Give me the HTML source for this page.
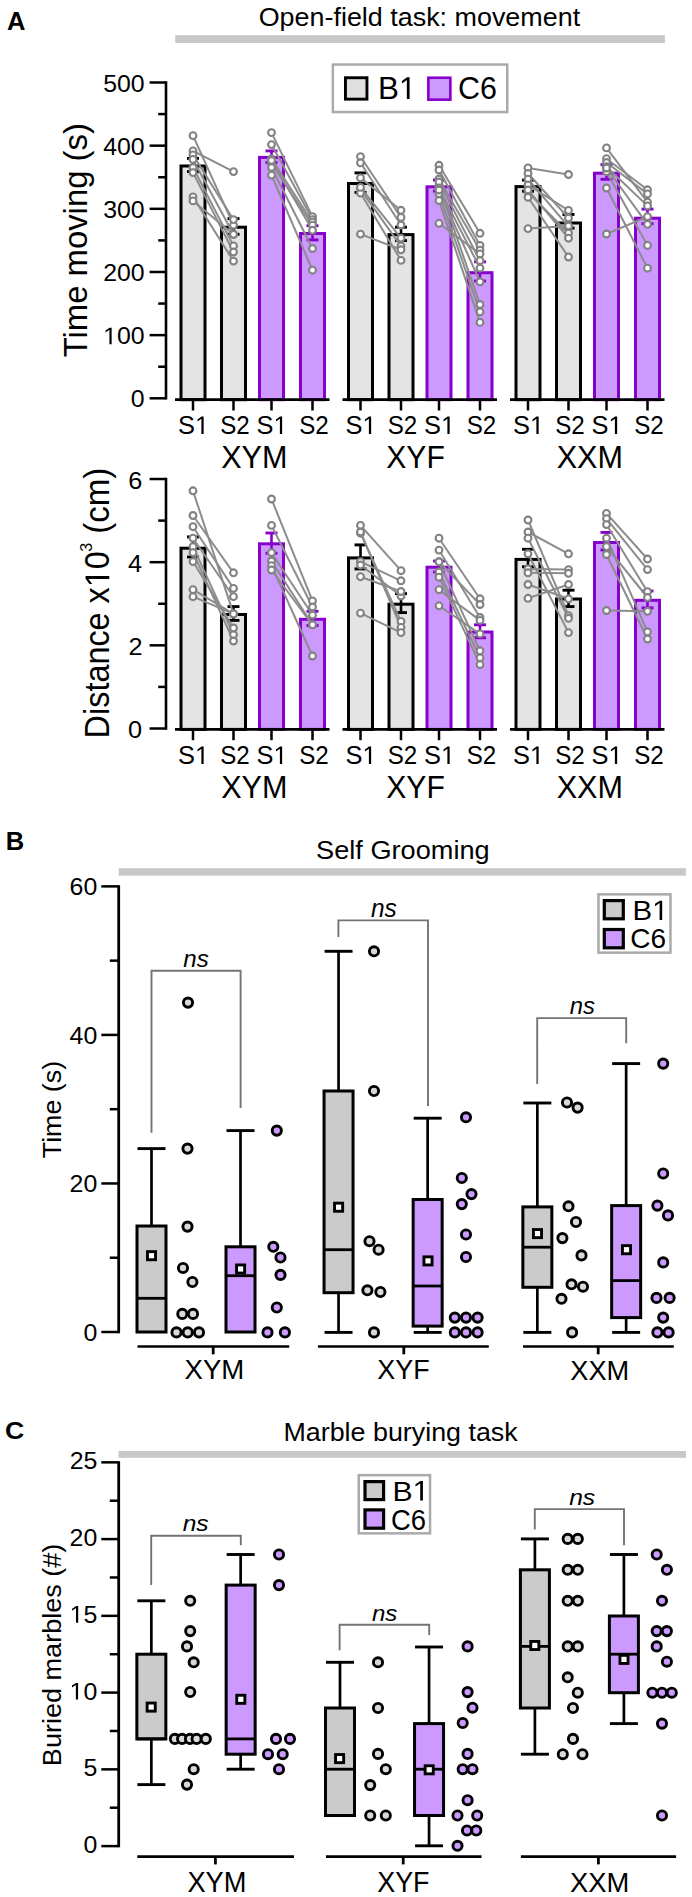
<!DOCTYPE html>
<html><head><meta charset="utf-8"><title>Figure</title>
<style>html,body{margin:0;padding:0;background:#fff;}svg{display:block;}</style>
</head><body>
<svg width="692" height="1897" viewBox="0 0 692 1897" font-family='"Liberation Sans", sans-serif'>
<rect x="0" y="0" width="692" height="1897" fill="#fff"/>
<text transform="translate(6.96,29.5) scale(0.9676,1)" font-size="26.38" font-weight="bold" fill="#000">A</text>
<text transform="translate(258.69,25.65) scale(1.0184,1)" font-size="26.42" fill="#000">Open-field task: movement</text>
<rect x="175.2" y="35.2" width="489.7" height="7.8" fill="#c8c8c8"/>
<rect x="332.85" y="64.55" width="174.4" height="47.5" fill="#fff" stroke="#aaaaaa" stroke-width="2.5"/>
<rect x="345.45" y="77.75" width="21.5" height="21.4" fill="#e0e0e0" stroke="#000" stroke-width="2.9"/>
<rect x="428.35" y="77.75" width="22" height="21.9" fill="#cc99ff" stroke="#8800cc" stroke-width="2.6"/>
<g transform="translate(377.99,98.97)" fill="#000">
<text font-size="31.4">B </text>
<path d="M515 0V1237L197 1010V1180L530 1409H696V0Z" transform="translate(20.94,0) scale(0.01533,-0.01533)"/>
</g>
<text transform="translate(457.98,98.68) scale(0.9700,1)" font-size="31.4" fill="#000">C6</text>
<line x1="166" y1="81.25" x2="166" y2="399.55" stroke="#000" stroke-width="2.6"/>
<line x1="149.6" y1="398.3" x2="166" y2="398.3" stroke="#000" stroke-width="2.5"/>
<line x1="149.6" y1="335.14" x2="166" y2="335.14" stroke="#000" stroke-width="2.5"/>
<line x1="149.6" y1="271.98" x2="166" y2="271.98" stroke="#000" stroke-width="2.5"/>
<line x1="149.6" y1="208.82" x2="166" y2="208.82" stroke="#000" stroke-width="2.5"/>
<line x1="149.6" y1="145.66" x2="166" y2="145.66" stroke="#000" stroke-width="2.5"/>
<line x1="149.6" y1="82.5" x2="166" y2="82.5" stroke="#000" stroke-width="2.5"/>
<line x1="158.2" y1="366.72" x2="166" y2="366.72" stroke="#000" stroke-width="2.5"/>
<line x1="158.2" y1="303.56" x2="166" y2="303.56" stroke="#000" stroke-width="2.5"/>
<line x1="158.2" y1="240.4" x2="166" y2="240.4" stroke="#000" stroke-width="2.5"/>
<line x1="158.2" y1="177.24" x2="166" y2="177.24" stroke="#000" stroke-width="2.5"/>
<line x1="158.2" y1="114.08" x2="166" y2="114.08" stroke="#000" stroke-width="2.5"/>
<text transform="translate(130.77,407.45) scale(1.0400,1)" font-size="23.9" fill="#000">0</text>
<g transform="translate(103.18,344.29) scale(1.0400,1)" fill="#000">
<text font-size="23.9"> 00</text>
<path d="M515 0V1237L197 1010V1180L530 1409H696V0Z" transform="translate(0,0) scale(0.01167,-0.01167)"/>
</g>
<text transform="translate(103.18,281.13) scale(1.0400,1)" font-size="23.9" fill="#000">200</text>
<text transform="translate(103.18,217.97) scale(1.0400,1)" font-size="23.9" fill="#000">300</text>
<text transform="translate(103.18,154.81) scale(1.0400,1)" font-size="23.9" fill="#000">400</text>
<text transform="translate(103.18,91.65) scale(1.0400,1)" font-size="23.9" fill="#000">500</text>
<text transform="translate(86.84,357.36) rotate(-90) scale(0.9629,1)" font-size="34.12" fill="#000">Time moving (s)</text>
<rect x="181" y="166" width="24" height="233.7" fill="#e4e4e4" stroke="#000" stroke-width="3"/>
<rect x="221.5" y="227.2" width="24" height="172.5" fill="#e4e4e4" stroke="#000" stroke-width="3"/>
<rect x="259.5" y="157.4" width="24" height="242.3" fill="#cc99ff" stroke="#8800cc" stroke-width="3"/>
<rect x="300.5" y="233.5" width="24" height="166.2" fill="#cc99ff" stroke="#8800cc" stroke-width="3"/>
<line x1="193" y1="158.4" x2="193" y2="171.6" stroke="#000" stroke-width="2.6"/>
<line x1="187" y1="158.4" x2="199" y2="158.4" stroke="#000" stroke-width="2.9"/>
<line x1="187" y1="171.6" x2="199" y2="171.6" stroke="#000" stroke-width="2.9"/>
<line x1="233.5" y1="218.6" x2="233.5" y2="234.3" stroke="#000" stroke-width="2.6"/>
<line x1="227.5" y1="218.6" x2="239.5" y2="218.6" stroke="#000" stroke-width="2.9"/>
<line x1="227.5" y1="234.3" x2="239.5" y2="234.3" stroke="#000" stroke-width="2.9"/>
<line x1="271.5" y1="150.9" x2="271.5" y2="162.5" stroke="#8800cc" stroke-width="2.6"/>
<line x1="265.5" y1="150.9" x2="277.5" y2="150.9" stroke="#8800cc" stroke-width="2.9"/>
<line x1="265.5" y1="162.5" x2="277.5" y2="162.5" stroke="#8800cc" stroke-width="2.9"/>
<line x1="312.5" y1="225.7" x2="312.5" y2="239.9" stroke="#8800cc" stroke-width="2.6"/>
<line x1="306.5" y1="225.7" x2="318.5" y2="225.7" stroke="#8800cc" stroke-width="2.9"/>
<line x1="306.5" y1="239.9" x2="318.5" y2="239.9" stroke="#8800cc" stroke-width="2.9"/>
<line x1="193" y1="135.7" x2="233.5" y2="225.2" stroke="#8c8c8c" stroke-width="2"/>
<line x1="193" y1="150.9" x2="233.5" y2="171.6" stroke="#8c8c8c" stroke-width="2"/>
<line x1="193" y1="154.9" x2="233.5" y2="219.6" stroke="#8c8c8c" stroke-width="2"/>
<line x1="193" y1="159.4" x2="233.5" y2="234.3" stroke="#8c8c8c" stroke-width="2"/>
<line x1="193" y1="167.5" x2="233.5" y2="245.9" stroke="#8c8c8c" stroke-width="2"/>
<line x1="193" y1="172.6" x2="233.5" y2="252" stroke="#8c8c8c" stroke-width="2"/>
<line x1="193" y1="196.9" x2="233.5" y2="261.1" stroke="#8c8c8c" stroke-width="2"/>
<line x1="193" y1="200.9" x2="233.5" y2="234.3" stroke="#8c8c8c" stroke-width="2"/>
<line x1="271.5" y1="132.6" x2="312.5" y2="216.6" stroke="#8c8c8c" stroke-width="2"/>
<line x1="271.5" y1="144.6" x2="312.5" y2="219.6" stroke="#8c8c8c" stroke-width="2"/>
<line x1="271.5" y1="158.9" x2="312.5" y2="222.2" stroke="#8c8c8c" stroke-width="2"/>
<line x1="271.5" y1="163.5" x2="312.5" y2="225.2" stroke="#8c8c8c" stroke-width="2"/>
<line x1="271.5" y1="167.5" x2="312.5" y2="248.5" stroke="#8c8c8c" stroke-width="2"/>
<line x1="271.5" y1="175.1" x2="312.5" y2="270.2" stroke="#8c8c8c" stroke-width="2"/>
<line x1="271.5" y1="160.5" x2="312.5" y2="230.3" stroke="#8c8c8c" stroke-width="2"/>
<circle cx="193" cy="135.7" r="3.4" fill="#fff" stroke="#828282" stroke-width="2.1"/>
<circle cx="233.5" cy="225.2" r="3.4" fill="#fff" stroke="#828282" stroke-width="2.1"/>
<circle cx="193" cy="150.9" r="3.4" fill="#fff" stroke="#828282" stroke-width="2.1"/>
<circle cx="233.5" cy="171.6" r="3.4" fill="#fff" stroke="#828282" stroke-width="2.1"/>
<circle cx="193" cy="154.9" r="3.4" fill="#fff" stroke="#828282" stroke-width="2.1"/>
<circle cx="233.5" cy="219.6" r="3.4" fill="#fff" stroke="#828282" stroke-width="2.1"/>
<circle cx="193" cy="159.4" r="3.4" fill="#fff" stroke="#828282" stroke-width="2.1"/>
<circle cx="233.5" cy="234.3" r="3.4" fill="#fff" stroke="#828282" stroke-width="2.1"/>
<circle cx="193" cy="167.5" r="3.4" fill="#fff" stroke="#828282" stroke-width="2.1"/>
<circle cx="233.5" cy="245.9" r="3.4" fill="#fff" stroke="#828282" stroke-width="2.1"/>
<circle cx="193" cy="172.6" r="3.4" fill="#fff" stroke="#828282" stroke-width="2.1"/>
<circle cx="233.5" cy="252" r="3.4" fill="#fff" stroke="#828282" stroke-width="2.1"/>
<circle cx="193" cy="196.9" r="3.4" fill="#fff" stroke="#828282" stroke-width="2.1"/>
<circle cx="233.5" cy="261.1" r="3.4" fill="#fff" stroke="#828282" stroke-width="2.1"/>
<circle cx="193" cy="200.9" r="3.4" fill="#fff" stroke="#828282" stroke-width="2.1"/>
<circle cx="233.5" cy="234.3" r="3.4" fill="#fff" stroke="#828282" stroke-width="2.1"/>
<circle cx="271.5" cy="132.6" r="3.4" fill="#fff" stroke="#828282" stroke-width="2.1"/>
<circle cx="312.5" cy="216.6" r="3.4" fill="#fff" stroke="#828282" stroke-width="2.1"/>
<circle cx="271.5" cy="144.6" r="3.4" fill="#fff" stroke="#828282" stroke-width="2.1"/>
<circle cx="312.5" cy="219.6" r="3.4" fill="#fff" stroke="#828282" stroke-width="2.1"/>
<circle cx="271.5" cy="158.9" r="3.4" fill="#fff" stroke="#828282" stroke-width="2.1"/>
<circle cx="312.5" cy="222.2" r="3.4" fill="#fff" stroke="#828282" stroke-width="2.1"/>
<circle cx="271.5" cy="163.5" r="3.4" fill="#fff" stroke="#828282" stroke-width="2.1"/>
<circle cx="312.5" cy="225.2" r="3.4" fill="#fff" stroke="#828282" stroke-width="2.1"/>
<circle cx="271.5" cy="167.5" r="3.4" fill="#fff" stroke="#828282" stroke-width="2.1"/>
<circle cx="312.5" cy="248.5" r="3.4" fill="#fff" stroke="#828282" stroke-width="2.1"/>
<circle cx="271.5" cy="175.1" r="3.4" fill="#fff" stroke="#828282" stroke-width="2.1"/>
<circle cx="312.5" cy="270.2" r="3.4" fill="#fff" stroke="#828282" stroke-width="2.1"/>
<circle cx="271.5" cy="160.5" r="3.4" fill="#fff" stroke="#828282" stroke-width="2.1"/>
<circle cx="312.5" cy="230.3" r="3.4" fill="#fff" stroke="#828282" stroke-width="2.1"/>
<rect x="348.5" y="183.5" width="24" height="216.2" fill="#e4e4e4" stroke="#000" stroke-width="3"/>
<rect x="389" y="234.6" width="24" height="165.1" fill="#e4e4e4" stroke="#000" stroke-width="3"/>
<rect x="427" y="186.8" width="24" height="212.9" fill="#cc99ff" stroke="#8800cc" stroke-width="3"/>
<rect x="468" y="272.7" width="24" height="127" fill="#cc99ff" stroke="#8800cc" stroke-width="3"/>
<line x1="360.5" y1="172.9" x2="360.5" y2="192.4" stroke="#000" stroke-width="2.6"/>
<line x1="354.5" y1="172.9" x2="366.5" y2="172.9" stroke="#000" stroke-width="2.9"/>
<line x1="354.5" y1="192.4" x2="366.5" y2="192.4" stroke="#000" stroke-width="2.9"/>
<line x1="401" y1="227.2" x2="401" y2="240.6" stroke="#000" stroke-width="2.6"/>
<line x1="395" y1="227.2" x2="407" y2="227.2" stroke="#000" stroke-width="2.9"/>
<line x1="395" y1="240.6" x2="407" y2="240.6" stroke="#000" stroke-width="2.9"/>
<line x1="439" y1="180" x2="439" y2="191.1" stroke="#8800cc" stroke-width="2.6"/>
<line x1="433" y1="180" x2="445" y2="180" stroke="#8800cc" stroke-width="2.9"/>
<line x1="433" y1="191.1" x2="445" y2="191.1" stroke="#8800cc" stroke-width="2.9"/>
<line x1="480" y1="261.8" x2="480" y2="281" stroke="#8800cc" stroke-width="2.6"/>
<line x1="474" y1="261.8" x2="486" y2="261.8" stroke="#8800cc" stroke-width="2.9"/>
<line x1="474" y1="281" x2="486" y2="281" stroke="#8800cc" stroke-width="2.9"/>
<line x1="360.5" y1="156.7" x2="401" y2="217.4" stroke="#8c8c8c" stroke-width="2"/>
<line x1="360.5" y1="162.8" x2="401" y2="225" stroke="#8c8c8c" stroke-width="2"/>
<line x1="360.5" y1="177.9" x2="401" y2="210.3" stroke="#8c8c8c" stroke-width="2"/>
<line x1="360.5" y1="189.6" x2="401" y2="246.2" stroke="#8c8c8c" stroke-width="2"/>
<line x1="360.5" y1="193.1" x2="401" y2="260.4" stroke="#8c8c8c" stroke-width="2"/>
<line x1="360.5" y1="234.1" x2="401" y2="249.8" stroke="#8c8c8c" stroke-width="2"/>
<line x1="360.5" y1="187.4" x2="401" y2="238.1" stroke="#8c8c8c" stroke-width="2"/>
<line x1="439" y1="165.3" x2="480" y2="233.3" stroke="#8c8c8c" stroke-width="2"/>
<line x1="439" y1="170" x2="480" y2="245.4" stroke="#8c8c8c" stroke-width="2"/>
<line x1="439" y1="179" x2="480" y2="250.2" stroke="#8c8c8c" stroke-width="2"/>
<line x1="439" y1="185.9" x2="480" y2="304.5" stroke="#8c8c8c" stroke-width="2"/>
<line x1="439" y1="193.8" x2="480" y2="311.8" stroke="#8c8c8c" stroke-width="2"/>
<line x1="439" y1="200.6" x2="480" y2="322.4" stroke="#8c8c8c" stroke-width="2"/>
<line x1="439" y1="223.3" x2="480" y2="253.9" stroke="#8c8c8c" stroke-width="2"/>
<line x1="439" y1="182" x2="480" y2="260.7" stroke="#8c8c8c" stroke-width="2"/>
<line x1="439" y1="188" x2="480" y2="268.1" stroke="#8c8c8c" stroke-width="2"/>
<line x1="439" y1="190" x2="480" y2="281.8" stroke="#8c8c8c" stroke-width="2"/>
<circle cx="360.5" cy="156.7" r="3.4" fill="#fff" stroke="#828282" stroke-width="2.1"/>
<circle cx="401" cy="217.4" r="3.4" fill="#fff" stroke="#828282" stroke-width="2.1"/>
<circle cx="360.5" cy="162.8" r="3.4" fill="#fff" stroke="#828282" stroke-width="2.1"/>
<circle cx="401" cy="225" r="3.4" fill="#fff" stroke="#828282" stroke-width="2.1"/>
<circle cx="360.5" cy="177.9" r="3.4" fill="#fff" stroke="#828282" stroke-width="2.1"/>
<circle cx="401" cy="210.3" r="3.4" fill="#fff" stroke="#828282" stroke-width="2.1"/>
<circle cx="360.5" cy="189.6" r="3.4" fill="#fff" stroke="#828282" stroke-width="2.1"/>
<circle cx="401" cy="246.2" r="3.4" fill="#fff" stroke="#828282" stroke-width="2.1"/>
<circle cx="360.5" cy="193.1" r="3.4" fill="#fff" stroke="#828282" stroke-width="2.1"/>
<circle cx="401" cy="260.4" r="3.4" fill="#fff" stroke="#828282" stroke-width="2.1"/>
<circle cx="360.5" cy="234.1" r="3.4" fill="#fff" stroke="#828282" stroke-width="2.1"/>
<circle cx="401" cy="249.8" r="3.4" fill="#fff" stroke="#828282" stroke-width="2.1"/>
<circle cx="360.5" cy="187.4" r="3.4" fill="#fff" stroke="#828282" stroke-width="2.1"/>
<circle cx="401" cy="238.1" r="3.4" fill="#fff" stroke="#828282" stroke-width="2.1"/>
<circle cx="439" cy="165.3" r="3.4" fill="#fff" stroke="#828282" stroke-width="2.1"/>
<circle cx="480" cy="233.3" r="3.4" fill="#fff" stroke="#828282" stroke-width="2.1"/>
<circle cx="439" cy="170" r="3.4" fill="#fff" stroke="#828282" stroke-width="2.1"/>
<circle cx="480" cy="245.4" r="3.4" fill="#fff" stroke="#828282" stroke-width="2.1"/>
<circle cx="439" cy="179" r="3.4" fill="#fff" stroke="#828282" stroke-width="2.1"/>
<circle cx="480" cy="250.2" r="3.4" fill="#fff" stroke="#828282" stroke-width="2.1"/>
<circle cx="439" cy="185.9" r="3.4" fill="#fff" stroke="#828282" stroke-width="2.1"/>
<circle cx="480" cy="304.5" r="3.4" fill="#fff" stroke="#828282" stroke-width="2.1"/>
<circle cx="439" cy="193.8" r="3.4" fill="#fff" stroke="#828282" stroke-width="2.1"/>
<circle cx="480" cy="311.8" r="3.4" fill="#fff" stroke="#828282" stroke-width="2.1"/>
<circle cx="439" cy="200.6" r="3.4" fill="#fff" stroke="#828282" stroke-width="2.1"/>
<circle cx="480" cy="322.4" r="3.4" fill="#fff" stroke="#828282" stroke-width="2.1"/>
<circle cx="439" cy="223.3" r="3.4" fill="#fff" stroke="#828282" stroke-width="2.1"/>
<circle cx="480" cy="253.9" r="3.4" fill="#fff" stroke="#828282" stroke-width="2.1"/>
<circle cx="439" cy="182" r="3.4" fill="#fff" stroke="#828282" stroke-width="2.1"/>
<circle cx="480" cy="260.7" r="3.4" fill="#fff" stroke="#828282" stroke-width="2.1"/>
<circle cx="439" cy="188" r="3.4" fill="#fff" stroke="#828282" stroke-width="2.1"/>
<circle cx="480" cy="268.1" r="3.4" fill="#fff" stroke="#828282" stroke-width="2.1"/>
<circle cx="439" cy="190" r="3.4" fill="#fff" stroke="#828282" stroke-width="2.1"/>
<circle cx="480" cy="281.8" r="3.4" fill="#fff" stroke="#828282" stroke-width="2.1"/>
<rect x="516" y="186.6" width="24" height="213.1" fill="#e4e4e4" stroke="#000" stroke-width="3"/>
<rect x="556.5" y="223" width="24" height="176.7" fill="#e4e4e4" stroke="#000" stroke-width="3"/>
<rect x="594.5" y="173.2" width="24" height="226.5" fill="#cc99ff" stroke="#8800cc" stroke-width="3"/>
<rect x="635.5" y="218.2" width="24" height="181.5" fill="#cc99ff" stroke="#8800cc" stroke-width="3"/>
<line x1="528" y1="180.1" x2="528" y2="191.2" stroke="#000" stroke-width="2.6"/>
<line x1="522" y1="180.1" x2="534" y2="180.1" stroke="#000" stroke-width="2.9"/>
<line x1="522" y1="191.2" x2="534" y2="191.2" stroke="#000" stroke-width="2.9"/>
<line x1="568.5" y1="214.5" x2="568.5" y2="228.1" stroke="#000" stroke-width="2.6"/>
<line x1="562.5" y1="214.5" x2="574.5" y2="214.5" stroke="#000" stroke-width="2.9"/>
<line x1="562.5" y1="228.1" x2="574.5" y2="228.1" stroke="#000" stroke-width="2.9"/>
<line x1="606.5" y1="164.7" x2="606.5" y2="179.3" stroke="#8800cc" stroke-width="2.6"/>
<line x1="600.5" y1="164.7" x2="612.5" y2="164.7" stroke="#8800cc" stroke-width="2.9"/>
<line x1="600.5" y1="179.3" x2="612.5" y2="179.3" stroke="#8800cc" stroke-width="2.9"/>
<line x1="647.5" y1="209.1" x2="647.5" y2="223.7" stroke="#8800cc" stroke-width="2.6"/>
<line x1="641.5" y1="209.1" x2="653.5" y2="209.1" stroke="#8800cc" stroke-width="2.9"/>
<line x1="641.5" y1="223.7" x2="653.5" y2="223.7" stroke="#8800cc" stroke-width="2.9"/>
<line x1="528" y1="167.9" x2="568.5" y2="174.5" stroke="#8c8c8c" stroke-width="2"/>
<line x1="528" y1="173.5" x2="568.5" y2="218" stroke="#8c8c8c" stroke-width="2"/>
<line x1="528" y1="179.1" x2="568.5" y2="226.6" stroke="#8c8c8c" stroke-width="2"/>
<line x1="528" y1="192.2" x2="568.5" y2="233.2" stroke="#8c8c8c" stroke-width="2"/>
<line x1="528" y1="197.3" x2="568.5" y2="257" stroke="#8c8c8c" stroke-width="2"/>
<line x1="528" y1="228.6" x2="568.5" y2="226" stroke="#8c8c8c" stroke-width="2"/>
<line x1="528" y1="185" x2="568.5" y2="210.4" stroke="#8c8c8c" stroke-width="2"/>
<line x1="528" y1="190" x2="568.5" y2="238.2" stroke="#8c8c8c" stroke-width="2"/>
<line x1="606.5" y1="147.9" x2="647.5" y2="202.1" stroke="#8c8c8c" stroke-width="2"/>
<line x1="606.5" y1="158.7" x2="647.5" y2="189.8" stroke="#8c8c8c" stroke-width="2"/>
<line x1="606.5" y1="162.5" x2="647.5" y2="193.9" stroke="#8c8c8c" stroke-width="2"/>
<line x1="606.5" y1="166.8" x2="647.5" y2="205.9" stroke="#8c8c8c" stroke-width="2"/>
<line x1="606.5" y1="171.7" x2="647.5" y2="245.4" stroke="#8c8c8c" stroke-width="2"/>
<line x1="606.5" y1="188" x2="647.5" y2="268.2" stroke="#8c8c8c" stroke-width="2"/>
<line x1="606.5" y1="234" x2="647.5" y2="216.7" stroke="#8c8c8c" stroke-width="2"/>
<line x1="606.5" y1="168" x2="647.5" y2="224.3" stroke="#8c8c8c" stroke-width="2"/>
<circle cx="528" cy="167.9" r="3.4" fill="#fff" stroke="#828282" stroke-width="2.1"/>
<circle cx="568.5" cy="174.5" r="3.4" fill="#fff" stroke="#828282" stroke-width="2.1"/>
<circle cx="528" cy="173.5" r="3.4" fill="#fff" stroke="#828282" stroke-width="2.1"/>
<circle cx="568.5" cy="218" r="3.4" fill="#fff" stroke="#828282" stroke-width="2.1"/>
<circle cx="528" cy="179.1" r="3.4" fill="#fff" stroke="#828282" stroke-width="2.1"/>
<circle cx="568.5" cy="226.6" r="3.4" fill="#fff" stroke="#828282" stroke-width="2.1"/>
<circle cx="528" cy="192.2" r="3.4" fill="#fff" stroke="#828282" stroke-width="2.1"/>
<circle cx="568.5" cy="233.2" r="3.4" fill="#fff" stroke="#828282" stroke-width="2.1"/>
<circle cx="528" cy="197.3" r="3.4" fill="#fff" stroke="#828282" stroke-width="2.1"/>
<circle cx="568.5" cy="257" r="3.4" fill="#fff" stroke="#828282" stroke-width="2.1"/>
<circle cx="528" cy="228.6" r="3.4" fill="#fff" stroke="#828282" stroke-width="2.1"/>
<circle cx="568.5" cy="226" r="3.4" fill="#fff" stroke="#828282" stroke-width="2.1"/>
<circle cx="528" cy="185" r="3.4" fill="#fff" stroke="#828282" stroke-width="2.1"/>
<circle cx="568.5" cy="210.4" r="3.4" fill="#fff" stroke="#828282" stroke-width="2.1"/>
<circle cx="528" cy="190" r="3.4" fill="#fff" stroke="#828282" stroke-width="2.1"/>
<circle cx="568.5" cy="238.2" r="3.4" fill="#fff" stroke="#828282" stroke-width="2.1"/>
<circle cx="606.5" cy="147.9" r="3.4" fill="#fff" stroke="#828282" stroke-width="2.1"/>
<circle cx="647.5" cy="202.1" r="3.4" fill="#fff" stroke="#828282" stroke-width="2.1"/>
<circle cx="606.5" cy="158.7" r="3.4" fill="#fff" stroke="#828282" stroke-width="2.1"/>
<circle cx="647.5" cy="189.8" r="3.4" fill="#fff" stroke="#828282" stroke-width="2.1"/>
<circle cx="606.5" cy="162.5" r="3.4" fill="#fff" stroke="#828282" stroke-width="2.1"/>
<circle cx="647.5" cy="193.9" r="3.4" fill="#fff" stroke="#828282" stroke-width="2.1"/>
<circle cx="606.5" cy="166.8" r="3.4" fill="#fff" stroke="#828282" stroke-width="2.1"/>
<circle cx="647.5" cy="205.9" r="3.4" fill="#fff" stroke="#828282" stroke-width="2.1"/>
<circle cx="606.5" cy="171.7" r="3.4" fill="#fff" stroke="#828282" stroke-width="2.1"/>
<circle cx="647.5" cy="245.4" r="3.4" fill="#fff" stroke="#828282" stroke-width="2.1"/>
<circle cx="606.5" cy="188" r="3.4" fill="#fff" stroke="#828282" stroke-width="2.1"/>
<circle cx="647.5" cy="268.2" r="3.4" fill="#fff" stroke="#828282" stroke-width="2.1"/>
<circle cx="606.5" cy="234" r="3.4" fill="#fff" stroke="#828282" stroke-width="2.1"/>
<circle cx="647.5" cy="216.7" r="3.4" fill="#fff" stroke="#828282" stroke-width="2.1"/>
<circle cx="606.5" cy="168" r="3.4" fill="#fff" stroke="#828282" stroke-width="2.1"/>
<circle cx="647.5" cy="224.3" r="3.4" fill="#fff" stroke="#828282" stroke-width="2.1"/>
<line x1="175" y1="399.7" x2="329.5" y2="399.7" stroke="#000" stroke-width="2.8"/>
<line x1="193" y1="399.7" x2="193" y2="410.5" stroke="#000" stroke-width="2.5"/>
<g transform="translate(178.07,434.08)" fill="#000">
<text font-size="25.4">S </text>
<path d="M515 0V1237L197 1010V1180L530 1409H696V0Z" transform="translate(16.94,0) scale(0.01240,-0.01240)"/>
</g>
<line x1="233.5" y1="399.7" x2="233.5" y2="410.5" stroke="#000" stroke-width="2.5"/>
<text transform="translate(220.27,434.08) scale(0.9500,1)" font-size="25.4" fill="#000">S2</text>
<line x1="271.5" y1="399.7" x2="271.5" y2="410.5" stroke="#000" stroke-width="2.5"/>
<g transform="translate(256.57,434.08)" fill="#000">
<text font-size="25.4">S </text>
<path d="M515 0V1237L197 1010V1180L530 1409H696V0Z" transform="translate(16.94,0) scale(0.01240,-0.01240)"/>
</g>
<line x1="312.5" y1="399.7" x2="312.5" y2="410.5" stroke="#000" stroke-width="2.5"/>
<text transform="translate(299.27,434.08) scale(0.9500,1)" font-size="25.4" fill="#000">S2</text>
<text transform="translate(221.14,468.3)" font-size="30.58" fill="#000">XYM</text>
<line x1="342.5" y1="399.7" x2="497" y2="399.7" stroke="#000" stroke-width="2.8"/>
<line x1="360.5" y1="399.7" x2="360.5" y2="410.5" stroke="#000" stroke-width="2.5"/>
<g transform="translate(345.57,434.08)" fill="#000">
<text font-size="25.4">S </text>
<path d="M515 0V1237L197 1010V1180L530 1409H696V0Z" transform="translate(16.94,0) scale(0.01240,-0.01240)"/>
</g>
<line x1="401" y1="399.7" x2="401" y2="410.5" stroke="#000" stroke-width="2.5"/>
<text transform="translate(387.77,434.08) scale(0.9500,1)" font-size="25.4" fill="#000">S2</text>
<line x1="439" y1="399.7" x2="439" y2="410.5" stroke="#000" stroke-width="2.5"/>
<g transform="translate(424.07,434.08)" fill="#000">
<text font-size="25.4">S </text>
<path d="M515 0V1237L197 1010V1180L530 1409H696V0Z" transform="translate(16.94,0) scale(0.01240,-0.01240)"/>
</g>
<line x1="480" y1="399.7" x2="480" y2="410.5" stroke="#000" stroke-width="2.5"/>
<text transform="translate(466.77,434.08) scale(0.9500,1)" font-size="25.4" fill="#000">S2</text>
<text transform="translate(386.25,468.3) scale(0.9845,1)" font-size="30.58" fill="#000">XYF</text>
<line x1="510" y1="399.7" x2="664.5" y2="399.7" stroke="#000" stroke-width="2.8"/>
<line x1="528" y1="399.7" x2="528" y2="410.5" stroke="#000" stroke-width="2.5"/>
<g transform="translate(513.07,434.08)" fill="#000">
<text font-size="25.4">S </text>
<path d="M515 0V1237L197 1010V1180L530 1409H696V0Z" transform="translate(16.94,0) scale(0.01240,-0.01240)"/>
</g>
<line x1="568.5" y1="399.7" x2="568.5" y2="410.5" stroke="#000" stroke-width="2.5"/>
<text transform="translate(555.27,434.08) scale(0.9500,1)" font-size="25.4" fill="#000">S2</text>
<line x1="606.5" y1="399.7" x2="606.5" y2="410.5" stroke="#000" stroke-width="2.5"/>
<g transform="translate(591.57,434.08)" fill="#000">
<text font-size="25.4">S </text>
<path d="M515 0V1237L197 1010V1180L530 1409H696V0Z" transform="translate(16.94,0) scale(0.01240,-0.01240)"/>
</g>
<line x1="647.5" y1="399.7" x2="647.5" y2="410.5" stroke="#000" stroke-width="2.5"/>
<text transform="translate(634.27,434.08) scale(0.9500,1)" font-size="25.4" fill="#000">S2</text>
<text transform="translate(556.64,468.3)" font-size="30.58" fill="#000">XXM</text>
<line x1="166" y1="477.77" x2="166" y2="729.75" stroke="#000" stroke-width="2.6"/>
<line x1="149.6" y1="728.5" x2="166" y2="728.5" stroke="#000" stroke-width="2.5"/>
<line x1="149.6" y1="645.34" x2="166" y2="645.34" stroke="#000" stroke-width="2.5"/>
<line x1="149.6" y1="562.18" x2="166" y2="562.18" stroke="#000" stroke-width="2.5"/>
<line x1="149.6" y1="479.02" x2="166" y2="479.02" stroke="#000" stroke-width="2.5"/>
<line x1="158.2" y1="686.92" x2="166" y2="686.92" stroke="#000" stroke-width="2.5"/>
<line x1="158.2" y1="603.76" x2="166" y2="603.76" stroke="#000" stroke-width="2.5"/>
<line x1="158.2" y1="520.6" x2="166" y2="520.6" stroke="#000" stroke-width="2.5"/>
<text transform="translate(128.02,737.99) scale(1.0300,1)" font-size="24.6" fill="#000">0</text>
<text transform="translate(128.4,654.95) scale(1.0300,1)" font-size="24.6" fill="#000">2</text>
<text transform="translate(127.9,571.67) scale(1.0300,1)" font-size="24.6" fill="#000">4</text>
<text transform="translate(128.15,488.51) scale(1.0300,1)" font-size="24.6" fill="#000">6</text>
<g transform="translate(109.26,738.39) rotate(-90) scale(0.9415,1)" fill="#000">
<text font-size="34.42">Distance x 0</text>
<path d="M515 0V1237L197 1010V1180L530 1409H696V0Z" transform="translate(160.7,0) scale(0.01681,-0.01681)"/>
</g>
<text transform="translate(92.23,551.64) rotate(-90) scale(0.9627,1)" font-size="16.62" fill="#000">3</text>
<text transform="translate(108.99,533.79) rotate(-90) scale(0.9647,1)" font-size="34.33" fill="#000">(cm)</text>
<rect x="181" y="548.2" width="24" height="181.2" fill="#e4e4e4" stroke="#000" stroke-width="3"/>
<rect x="221.5" y="614.5" width="24" height="114.9" fill="#e4e4e4" stroke="#000" stroke-width="3"/>
<rect x="259.5" y="543.8" width="24" height="185.6" fill="#cc99ff" stroke="#8800cc" stroke-width="3"/>
<rect x="300.5" y="619.3" width="24" height="110.1" fill="#cc99ff" stroke="#8800cc" stroke-width="3"/>
<line x1="193" y1="536.9" x2="193" y2="557" stroke="#000" stroke-width="2.6"/>
<line x1="187" y1="536.9" x2="199" y2="536.9" stroke="#000" stroke-width="2.9"/>
<line x1="187" y1="557" x2="199" y2="557" stroke="#000" stroke-width="2.9"/>
<line x1="233.5" y1="606.6" x2="233.5" y2="620.4" stroke="#000" stroke-width="2.6"/>
<line x1="227.5" y1="606.6" x2="239.5" y2="606.6" stroke="#000" stroke-width="2.9"/>
<line x1="227.5" y1="620.4" x2="239.5" y2="620.4" stroke="#000" stroke-width="2.9"/>
<line x1="271.5" y1="533" x2="271.5" y2="553.2" stroke="#8800cc" stroke-width="2.6"/>
<line x1="265.5" y1="533" x2="277.5" y2="533" stroke="#8800cc" stroke-width="2.9"/>
<line x1="265.5" y1="553.2" x2="277.5" y2="553.2" stroke="#8800cc" stroke-width="2.9"/>
<line x1="312.5" y1="611.3" x2="312.5" y2="625.6" stroke="#8800cc" stroke-width="2.6"/>
<line x1="306.5" y1="611.3" x2="318.5" y2="611.3" stroke="#8800cc" stroke-width="2.9"/>
<line x1="306.5" y1="625.6" x2="318.5" y2="625.6" stroke="#8800cc" stroke-width="2.9"/>
<line x1="193" y1="490.8" x2="233.5" y2="613.9" stroke="#8c8c8c" stroke-width="2"/>
<line x1="193" y1="515.5" x2="233.5" y2="572.8" stroke="#8c8c8c" stroke-width="2"/>
<line x1="193" y1="526.7" x2="233.5" y2="588.4" stroke="#8c8c8c" stroke-width="2"/>
<line x1="193" y1="538.2" x2="233.5" y2="596.7" stroke="#8c8c8c" stroke-width="2"/>
<line x1="193" y1="546.7" x2="233.5" y2="634.7" stroke="#8c8c8c" stroke-width="2"/>
<line x1="193" y1="552.7" x2="233.5" y2="641" stroke="#8c8c8c" stroke-width="2"/>
<line x1="193" y1="561.6" x2="233.5" y2="628" stroke="#8c8c8c" stroke-width="2"/>
<line x1="193" y1="589.7" x2="233.5" y2="613.9" stroke="#8c8c8c" stroke-width="2"/>
<line x1="193" y1="596.7" x2="233.5" y2="613.9" stroke="#8c8c8c" stroke-width="2"/>
<line x1="271.5" y1="499" x2="312.5" y2="600.9" stroke="#8c8c8c" stroke-width="2"/>
<line x1="271.5" y1="525.4" x2="312.5" y2="607" stroke="#8c8c8c" stroke-width="2"/>
<line x1="271.5" y1="552.7" x2="312.5" y2="615" stroke="#8c8c8c" stroke-width="2"/>
<line x1="271.5" y1="561" x2="312.5" y2="624.8" stroke="#8c8c8c" stroke-width="2"/>
<line x1="271.5" y1="565.7" x2="312.5" y2="656" stroke="#8c8c8c" stroke-width="2"/>
<line x1="271.5" y1="570" x2="312.5" y2="624.8" stroke="#8c8c8c" stroke-width="2"/>
<circle cx="193" cy="490.8" r="3.4" fill="#fff" stroke="#828282" stroke-width="2.1"/>
<circle cx="233.5" cy="613.9" r="3.4" fill="#fff" stroke="#828282" stroke-width="2.1"/>
<circle cx="193" cy="515.5" r="3.4" fill="#fff" stroke="#828282" stroke-width="2.1"/>
<circle cx="233.5" cy="572.8" r="3.4" fill="#fff" stroke="#828282" stroke-width="2.1"/>
<circle cx="193" cy="526.7" r="3.4" fill="#fff" stroke="#828282" stroke-width="2.1"/>
<circle cx="233.5" cy="588.4" r="3.4" fill="#fff" stroke="#828282" stroke-width="2.1"/>
<circle cx="193" cy="538.2" r="3.4" fill="#fff" stroke="#828282" stroke-width="2.1"/>
<circle cx="233.5" cy="596.7" r="3.4" fill="#fff" stroke="#828282" stroke-width="2.1"/>
<circle cx="193" cy="546.7" r="3.4" fill="#fff" stroke="#828282" stroke-width="2.1"/>
<circle cx="233.5" cy="634.7" r="3.4" fill="#fff" stroke="#828282" stroke-width="2.1"/>
<circle cx="193" cy="552.7" r="3.4" fill="#fff" stroke="#828282" stroke-width="2.1"/>
<circle cx="233.5" cy="641" r="3.4" fill="#fff" stroke="#828282" stroke-width="2.1"/>
<circle cx="193" cy="561.6" r="3.4" fill="#fff" stroke="#828282" stroke-width="2.1"/>
<circle cx="233.5" cy="628" r="3.4" fill="#fff" stroke="#828282" stroke-width="2.1"/>
<circle cx="193" cy="589.7" r="3.4" fill="#fff" stroke="#828282" stroke-width="2.1"/>
<circle cx="233.5" cy="613.9" r="3.4" fill="#fff" stroke="#828282" stroke-width="2.1"/>
<circle cx="193" cy="596.7" r="3.4" fill="#fff" stroke="#828282" stroke-width="2.1"/>
<circle cx="233.5" cy="613.9" r="3.4" fill="#fff" stroke="#828282" stroke-width="2.1"/>
<circle cx="271.5" cy="499" r="3.4" fill="#fff" stroke="#828282" stroke-width="2.1"/>
<circle cx="312.5" cy="600.9" r="3.4" fill="#fff" stroke="#828282" stroke-width="2.1"/>
<circle cx="271.5" cy="525.4" r="3.4" fill="#fff" stroke="#828282" stroke-width="2.1"/>
<circle cx="312.5" cy="607" r="3.4" fill="#fff" stroke="#828282" stroke-width="2.1"/>
<circle cx="271.5" cy="552.7" r="3.4" fill="#fff" stroke="#828282" stroke-width="2.1"/>
<circle cx="312.5" cy="615" r="3.4" fill="#fff" stroke="#828282" stroke-width="2.1"/>
<circle cx="271.5" cy="561" r="3.4" fill="#fff" stroke="#828282" stroke-width="2.1"/>
<circle cx="312.5" cy="624.8" r="3.4" fill="#fff" stroke="#828282" stroke-width="2.1"/>
<circle cx="271.5" cy="565.7" r="3.4" fill="#fff" stroke="#828282" stroke-width="2.1"/>
<circle cx="312.5" cy="656" r="3.4" fill="#fff" stroke="#828282" stroke-width="2.1"/>
<circle cx="271.5" cy="570" r="3.4" fill="#fff" stroke="#828282" stroke-width="2.1"/>
<circle cx="312.5" cy="624.8" r="3.4" fill="#fff" stroke="#828282" stroke-width="2.1"/>
<rect x="348.5" y="557.9" width="24" height="171.5" fill="#e4e4e4" stroke="#000" stroke-width="3"/>
<rect x="389" y="604.2" width="24" height="125.2" fill="#e4e4e4" stroke="#000" stroke-width="3"/>
<rect x="427" y="567.2" width="24" height="162.2" fill="#cc99ff" stroke="#8800cc" stroke-width="3"/>
<rect x="468" y="632" width="24" height="97.4" fill="#cc99ff" stroke="#8800cc" stroke-width="3"/>
<line x1="360.5" y1="544.9" x2="360.5" y2="568.9" stroke="#000" stroke-width="2.6"/>
<line x1="354.5" y1="544.9" x2="366.5" y2="544.9" stroke="#000" stroke-width="2.9"/>
<line x1="354.5" y1="568.9" x2="366.5" y2="568.9" stroke="#000" stroke-width="2.9"/>
<line x1="401" y1="593.6" x2="401" y2="612.6" stroke="#000" stroke-width="2.6"/>
<line x1="395" y1="593.6" x2="407" y2="593.6" stroke="#000" stroke-width="2.9"/>
<line x1="395" y1="612.6" x2="407" y2="612.6" stroke="#000" stroke-width="2.9"/>
<line x1="439" y1="561" x2="439" y2="572" stroke="#8800cc" stroke-width="2.6"/>
<line x1="433" y1="561" x2="445" y2="561" stroke="#8800cc" stroke-width="2.9"/>
<line x1="433" y1="572" x2="445" y2="572" stroke="#8800cc" stroke-width="2.9"/>
<line x1="480" y1="624.8" x2="480" y2="637.8" stroke="#8800cc" stroke-width="2.6"/>
<line x1="474" y1="624.8" x2="486" y2="624.8" stroke="#8800cc" stroke-width="2.9"/>
<line x1="474" y1="637.8" x2="486" y2="637.8" stroke="#8800cc" stroke-width="2.9"/>
<line x1="360.5" y1="525.4" x2="401" y2="570.7" stroke="#8c8c8c" stroke-width="2"/>
<line x1="360.5" y1="533.2" x2="401" y2="621.4" stroke="#8c8c8c" stroke-width="2"/>
<line x1="360.5" y1="532" x2="401" y2="627.4" stroke="#8c8c8c" stroke-width="2"/>
<line x1="360.5" y1="561.6" x2="401" y2="580.8" stroke="#8c8c8c" stroke-width="2"/>
<line x1="360.5" y1="565" x2="401" y2="596" stroke="#8c8c8c" stroke-width="2"/>
<line x1="360.5" y1="576.7" x2="401" y2="591.5" stroke="#8c8c8c" stroke-width="2"/>
<line x1="360.5" y1="613.1" x2="401" y2="632.6" stroke="#8c8c8c" stroke-width="2"/>
<line x1="439" y1="538.2" x2="480" y2="598.8" stroke="#8c8c8c" stroke-width="2"/>
<line x1="439" y1="550.1" x2="480" y2="617.5" stroke="#8c8c8c" stroke-width="2"/>
<line x1="439" y1="561.6" x2="480" y2="604.5" stroke="#8c8c8c" stroke-width="2"/>
<line x1="439" y1="561.8" x2="480" y2="650.8" stroke="#8c8c8c" stroke-width="2"/>
<line x1="439" y1="572" x2="480" y2="657.8" stroke="#8c8c8c" stroke-width="2"/>
<line x1="439" y1="577.2" x2="480" y2="664.6" stroke="#8c8c8c" stroke-width="2"/>
<line x1="439" y1="589.7" x2="480" y2="620.4" stroke="#8c8c8c" stroke-width="2"/>
<line x1="439" y1="605.8" x2="480" y2="633.9" stroke="#8c8c8c" stroke-width="2"/>
<circle cx="360.5" cy="525.4" r="3.4" fill="#fff" stroke="#828282" stroke-width="2.1"/>
<circle cx="401" cy="570.7" r="3.4" fill="#fff" stroke="#828282" stroke-width="2.1"/>
<circle cx="360.5" cy="533.2" r="3.4" fill="#fff" stroke="#828282" stroke-width="2.1"/>
<circle cx="401" cy="621.4" r="3.4" fill="#fff" stroke="#828282" stroke-width="2.1"/>
<circle cx="360.5" cy="532" r="3.4" fill="#fff" stroke="#828282" stroke-width="2.1"/>
<circle cx="401" cy="627.4" r="3.4" fill="#fff" stroke="#828282" stroke-width="2.1"/>
<circle cx="360.5" cy="561.6" r="3.4" fill="#fff" stroke="#828282" stroke-width="2.1"/>
<circle cx="401" cy="580.8" r="3.4" fill="#fff" stroke="#828282" stroke-width="2.1"/>
<circle cx="360.5" cy="565" r="3.4" fill="#fff" stroke="#828282" stroke-width="2.1"/>
<circle cx="401" cy="596" r="3.4" fill="#fff" stroke="#828282" stroke-width="2.1"/>
<circle cx="360.5" cy="576.7" r="3.4" fill="#fff" stroke="#828282" stroke-width="2.1"/>
<circle cx="401" cy="591.5" r="3.4" fill="#fff" stroke="#828282" stroke-width="2.1"/>
<circle cx="360.5" cy="613.1" r="3.4" fill="#fff" stroke="#828282" stroke-width="2.1"/>
<circle cx="401" cy="632.6" r="3.4" fill="#fff" stroke="#828282" stroke-width="2.1"/>
<circle cx="439" cy="538.2" r="3.4" fill="#fff" stroke="#828282" stroke-width="2.1"/>
<circle cx="480" cy="598.8" r="3.4" fill="#fff" stroke="#828282" stroke-width="2.1"/>
<circle cx="439" cy="550.1" r="3.4" fill="#fff" stroke="#828282" stroke-width="2.1"/>
<circle cx="480" cy="617.5" r="3.4" fill="#fff" stroke="#828282" stroke-width="2.1"/>
<circle cx="439" cy="561.6" r="3.4" fill="#fff" stroke="#828282" stroke-width="2.1"/>
<circle cx="480" cy="604.5" r="3.4" fill="#fff" stroke="#828282" stroke-width="2.1"/>
<circle cx="439" cy="561.8" r="3.4" fill="#fff" stroke="#828282" stroke-width="2.1"/>
<circle cx="480" cy="650.8" r="3.4" fill="#fff" stroke="#828282" stroke-width="2.1"/>
<circle cx="439" cy="572" r="3.4" fill="#fff" stroke="#828282" stroke-width="2.1"/>
<circle cx="480" cy="657.8" r="3.4" fill="#fff" stroke="#828282" stroke-width="2.1"/>
<circle cx="439" cy="577.2" r="3.4" fill="#fff" stroke="#828282" stroke-width="2.1"/>
<circle cx="480" cy="664.6" r="3.4" fill="#fff" stroke="#828282" stroke-width="2.1"/>
<circle cx="439" cy="589.7" r="3.4" fill="#fff" stroke="#828282" stroke-width="2.1"/>
<circle cx="480" cy="620.4" r="3.4" fill="#fff" stroke="#828282" stroke-width="2.1"/>
<circle cx="439" cy="605.8" r="3.4" fill="#fff" stroke="#828282" stroke-width="2.1"/>
<circle cx="480" cy="633.9" r="3.4" fill="#fff" stroke="#828282" stroke-width="2.1"/>
<rect x="516" y="559.4" width="24" height="170" fill="#e4e4e4" stroke="#000" stroke-width="3"/>
<rect x="556.5" y="599" width="24" height="130.4" fill="#e4e4e4" stroke="#000" stroke-width="3"/>
<rect x="594.5" y="542.5" width="24" height="186.9" fill="#cc99ff" stroke="#8800cc" stroke-width="3"/>
<rect x="635.5" y="600.3" width="24" height="129.1" fill="#cc99ff" stroke="#8800cc" stroke-width="3"/>
<line x1="528" y1="549.3" x2="528" y2="566.8" stroke="#000" stroke-width="2.6"/>
<line x1="522" y1="549.3" x2="534" y2="549.3" stroke="#000" stroke-width="2.9"/>
<line x1="522" y1="566.8" x2="534" y2="566.8" stroke="#000" stroke-width="2.9"/>
<line x1="568.5" y1="590.2" x2="568.5" y2="606.6" stroke="#000" stroke-width="2.6"/>
<line x1="562.5" y1="590.2" x2="574.5" y2="590.2" stroke="#000" stroke-width="2.9"/>
<line x1="562.5" y1="606.6" x2="574.5" y2="606.6" stroke="#000" stroke-width="2.9"/>
<line x1="606.5" y1="532.4" x2="606.5" y2="550" stroke="#8800cc" stroke-width="2.6"/>
<line x1="600.5" y1="532.4" x2="612.5" y2="532.4" stroke="#8800cc" stroke-width="2.9"/>
<line x1="600.5" y1="550" x2="612.5" y2="550" stroke="#8800cc" stroke-width="2.9"/>
<line x1="647.5" y1="591" x2="647.5" y2="607.9" stroke="#8800cc" stroke-width="2.6"/>
<line x1="641.5" y1="591" x2="653.5" y2="591" stroke="#8800cc" stroke-width="2.9"/>
<line x1="641.5" y1="607.9" x2="653.5" y2="607.9" stroke="#8800cc" stroke-width="2.9"/>
<line x1="528" y1="520" x2="568.5" y2="615.7" stroke="#8c8c8c" stroke-width="2"/>
<line x1="528" y1="532" x2="568.5" y2="553.8" stroke="#8c8c8c" stroke-width="2"/>
<line x1="528" y1="538.2" x2="568.5" y2="618.3" stroke="#8c8c8c" stroke-width="2"/>
<line x1="528" y1="553.8" x2="568.5" y2="632.6" stroke="#8c8c8c" stroke-width="2"/>
<line x1="528" y1="568.9" x2="568.5" y2="569.6" stroke="#8c8c8c" stroke-width="2"/>
<line x1="528" y1="572.8" x2="568.5" y2="573.3" stroke="#8c8c8c" stroke-width="2"/>
<line x1="528" y1="584.5" x2="568.5" y2="598.8" stroke="#8c8c8c" stroke-width="2"/>
<line x1="528" y1="598.3" x2="568.5" y2="584.5" stroke="#8c8c8c" stroke-width="2"/>
<line x1="606.5" y1="513.4" x2="647.5" y2="559" stroke="#8c8c8c" stroke-width="2"/>
<line x1="606.5" y1="518.6" x2="647.5" y2="569.6" stroke="#8c8c8c" stroke-width="2"/>
<line x1="606.5" y1="524.6" x2="647.5" y2="591.7" stroke="#8c8c8c" stroke-width="2"/>
<line x1="606.5" y1="538.2" x2="647.5" y2="631.8" stroke="#8c8c8c" stroke-width="2"/>
<line x1="606.5" y1="546.7" x2="647.5" y2="597.5" stroke="#8c8c8c" stroke-width="2"/>
<line x1="606.5" y1="554.5" x2="647.5" y2="639" stroke="#8c8c8c" stroke-width="2"/>
<line x1="606.5" y1="610.5" x2="647.5" y2="611.3" stroke="#8c8c8c" stroke-width="2"/>
<circle cx="528" cy="520" r="3.4" fill="#fff" stroke="#828282" stroke-width="2.1"/>
<circle cx="568.5" cy="615.7" r="3.4" fill="#fff" stroke="#828282" stroke-width="2.1"/>
<circle cx="528" cy="532" r="3.4" fill="#fff" stroke="#828282" stroke-width="2.1"/>
<circle cx="568.5" cy="553.8" r="3.4" fill="#fff" stroke="#828282" stroke-width="2.1"/>
<circle cx="528" cy="538.2" r="3.4" fill="#fff" stroke="#828282" stroke-width="2.1"/>
<circle cx="568.5" cy="618.3" r="3.4" fill="#fff" stroke="#828282" stroke-width="2.1"/>
<circle cx="528" cy="553.8" r="3.4" fill="#fff" stroke="#828282" stroke-width="2.1"/>
<circle cx="568.5" cy="632.6" r="3.4" fill="#fff" stroke="#828282" stroke-width="2.1"/>
<circle cx="528" cy="568.9" r="3.4" fill="#fff" stroke="#828282" stroke-width="2.1"/>
<circle cx="568.5" cy="569.6" r="3.4" fill="#fff" stroke="#828282" stroke-width="2.1"/>
<circle cx="528" cy="572.8" r="3.4" fill="#fff" stroke="#828282" stroke-width="2.1"/>
<circle cx="568.5" cy="573.3" r="3.4" fill="#fff" stroke="#828282" stroke-width="2.1"/>
<circle cx="528" cy="584.5" r="3.4" fill="#fff" stroke="#828282" stroke-width="2.1"/>
<circle cx="568.5" cy="598.8" r="3.4" fill="#fff" stroke="#828282" stroke-width="2.1"/>
<circle cx="528" cy="598.3" r="3.4" fill="#fff" stroke="#828282" stroke-width="2.1"/>
<circle cx="568.5" cy="584.5" r="3.4" fill="#fff" stroke="#828282" stroke-width="2.1"/>
<circle cx="606.5" cy="513.4" r="3.4" fill="#fff" stroke="#828282" stroke-width="2.1"/>
<circle cx="647.5" cy="559" r="3.4" fill="#fff" stroke="#828282" stroke-width="2.1"/>
<circle cx="606.5" cy="518.6" r="3.4" fill="#fff" stroke="#828282" stroke-width="2.1"/>
<circle cx="647.5" cy="569.6" r="3.4" fill="#fff" stroke="#828282" stroke-width="2.1"/>
<circle cx="606.5" cy="524.6" r="3.4" fill="#fff" stroke="#828282" stroke-width="2.1"/>
<circle cx="647.5" cy="591.7" r="3.4" fill="#fff" stroke="#828282" stroke-width="2.1"/>
<circle cx="606.5" cy="538.2" r="3.4" fill="#fff" stroke="#828282" stroke-width="2.1"/>
<circle cx="647.5" cy="631.8" r="3.4" fill="#fff" stroke="#828282" stroke-width="2.1"/>
<circle cx="606.5" cy="546.7" r="3.4" fill="#fff" stroke="#828282" stroke-width="2.1"/>
<circle cx="647.5" cy="597.5" r="3.4" fill="#fff" stroke="#828282" stroke-width="2.1"/>
<circle cx="606.5" cy="554.5" r="3.4" fill="#fff" stroke="#828282" stroke-width="2.1"/>
<circle cx="647.5" cy="639" r="3.4" fill="#fff" stroke="#828282" stroke-width="2.1"/>
<circle cx="606.5" cy="610.5" r="3.4" fill="#fff" stroke="#828282" stroke-width="2.1"/>
<circle cx="647.5" cy="611.3" r="3.4" fill="#fff" stroke="#828282" stroke-width="2.1"/>
<line x1="175" y1="729.4" x2="329.5" y2="729.4" stroke="#000" stroke-width="2.8"/>
<line x1="193" y1="729.4" x2="193" y2="740.2" stroke="#000" stroke-width="2.5"/>
<g transform="translate(178.07,764.08)" fill="#000">
<text font-size="25.4">S </text>
<path d="M515 0V1237L197 1010V1180L530 1409H696V0Z" transform="translate(16.94,0) scale(0.01240,-0.01240)"/>
</g>
<line x1="233.5" y1="729.4" x2="233.5" y2="740.2" stroke="#000" stroke-width="2.5"/>
<text transform="translate(220.27,764.08) scale(0.9500,1)" font-size="25.4" fill="#000">S2</text>
<line x1="271.5" y1="729.4" x2="271.5" y2="740.2" stroke="#000" stroke-width="2.5"/>
<g transform="translate(256.57,764.08)" fill="#000">
<text font-size="25.4">S </text>
<path d="M515 0V1237L197 1010V1180L530 1409H696V0Z" transform="translate(16.94,0) scale(0.01240,-0.01240)"/>
</g>
<line x1="312.5" y1="729.4" x2="312.5" y2="740.2" stroke="#000" stroke-width="2.5"/>
<text transform="translate(299.27,764.08) scale(0.9500,1)" font-size="25.4" fill="#000">S2</text>
<text transform="translate(221.14,798.3) scale(0.9636,1)" font-size="31.74" fill="#000">XYM</text>
<line x1="342.5" y1="729.4" x2="497" y2="729.4" stroke="#000" stroke-width="2.8"/>
<line x1="360.5" y1="729.4" x2="360.5" y2="740.2" stroke="#000" stroke-width="2.5"/>
<g transform="translate(345.57,764.08)" fill="#000">
<text font-size="25.4">S </text>
<path d="M515 0V1237L197 1010V1180L530 1409H696V0Z" transform="translate(16.94,0) scale(0.01240,-0.01240)"/>
</g>
<line x1="401" y1="729.4" x2="401" y2="740.2" stroke="#000" stroke-width="2.5"/>
<text transform="translate(387.77,764.08) scale(0.9500,1)" font-size="25.4" fill="#000">S2</text>
<line x1="439" y1="729.4" x2="439" y2="740.2" stroke="#000" stroke-width="2.5"/>
<g transform="translate(424.07,764.08)" fill="#000">
<text font-size="25.4">S </text>
<path d="M515 0V1237L197 1010V1180L530 1409H696V0Z" transform="translate(16.94,0) scale(0.01240,-0.01240)"/>
</g>
<line x1="480" y1="729.4" x2="480" y2="740.2" stroke="#000" stroke-width="2.5"/>
<text transform="translate(466.77,764.08) scale(0.9500,1)" font-size="25.4" fill="#000">S2</text>
<text transform="translate(386.25,798.3) scale(0.9486,1)" font-size="31.74" fill="#000">XYF</text>
<line x1="510" y1="729.4" x2="664.5" y2="729.4" stroke="#000" stroke-width="2.8"/>
<line x1="528" y1="729.4" x2="528" y2="740.2" stroke="#000" stroke-width="2.5"/>
<g transform="translate(513.07,764.08)" fill="#000">
<text font-size="25.4">S </text>
<path d="M515 0V1237L197 1010V1180L530 1409H696V0Z" transform="translate(16.94,0) scale(0.01240,-0.01240)"/>
</g>
<line x1="568.5" y1="729.4" x2="568.5" y2="740.2" stroke="#000" stroke-width="2.5"/>
<text transform="translate(555.27,764.08) scale(0.9500,1)" font-size="25.4" fill="#000">S2</text>
<line x1="606.5" y1="729.4" x2="606.5" y2="740.2" stroke="#000" stroke-width="2.5"/>
<g transform="translate(591.57,764.08)" fill="#000">
<text font-size="25.4">S </text>
<path d="M515 0V1237L197 1010V1180L530 1409H696V0Z" transform="translate(16.94,0) scale(0.01240,-0.01240)"/>
</g>
<line x1="647.5" y1="729.4" x2="647.5" y2="740.2" stroke="#000" stroke-width="2.5"/>
<text transform="translate(634.27,764.08) scale(0.9500,1)" font-size="25.4" fill="#000">S2</text>
<text transform="translate(556.64,798.3) scale(0.9636,1)" font-size="31.74" fill="#000">XXM</text>
<text transform="translate(5.74,849.9) scale(0.9913,1)" font-size="25.8" font-weight="bold" fill="#000">B</text>
<text transform="translate(316.08,858.62) scale(1.0410,1)" font-size="26.1" fill="#000">Self Grooming</text>
<rect x="118.8" y="868.2" width="567.2" height="7.5" fill="#c8c8c8"/>
<rect x="598.45" y="894.35" width="72" height="58.3" fill="#fff" stroke="#aaaaaa" stroke-width="2.5"/>
<rect x="604.3" y="900.6" width="19" height="18.2" fill="#cbcbcb" stroke="#000" stroke-width="3.2"/>
<rect x="604.3" y="929.5" width="19" height="18.3" fill="#cc99ff" stroke="#000" stroke-width="3.2"/>
<g transform="translate(632.54,920.1) scale(1.0422,1)" fill="#000">
<text font-size="28.26">B </text>
<path d="M515 0V1237L197 1010V1180L530 1409H696V0Z" transform="translate(18.85,0) scale(0.01380,-0.01380)"/>
</g>
<text transform="translate(630.2,948.43) scale(1.0201,1)" font-size="27.46" fill="#000">C6</text>
<line x1="118.7" y1="885.18" x2="118.7" y2="1333.2" stroke="#000" stroke-width="2.8"/>
<line x1="101.3" y1="1332" x2="118.7" y2="1332" stroke="#000" stroke-width="2.5"/>
<text transform="translate(83.44,1340.65) scale(1.0300,1)" font-size="24.2" fill="#000">0</text>
<line x1="101.3" y1="1183.46" x2="118.7" y2="1183.46" stroke="#000" stroke-width="2.5"/>
<text transform="translate(69.6,1192.11) scale(1.0300,1)" font-size="24.2" fill="#000">20</text>
<line x1="101.3" y1="1034.92" x2="118.7" y2="1034.92" stroke="#000" stroke-width="2.5"/>
<text transform="translate(69.6,1043.57) scale(1.0300,1)" font-size="24.2" fill="#000">40</text>
<line x1="101.3" y1="886.38" x2="118.7" y2="886.38" stroke="#000" stroke-width="2.5"/>
<text transform="translate(69.6,895.03) scale(1.0300,1)" font-size="24.2" fill="#000">60</text>
<line x1="109.8" y1="1257.73" x2="118.7" y2="1257.73" stroke="#000" stroke-width="2.5"/>
<line x1="109.8" y1="1109.19" x2="118.7" y2="1109.19" stroke="#000" stroke-width="2.5"/>
<line x1="109.8" y1="960.65" x2="118.7" y2="960.65" stroke="#000" stroke-width="2.5"/>
<text transform="translate(61.03,1158.24) rotate(-90) scale(1.0125,1)" font-size="26.52" fill="#000">Time (s)</text>
<polyline points="151.5,1132.7 151.5,970.8 240.6,970.8 240.6,1108" fill="none" stroke="#737373" stroke-width="1.9"/>
<text transform="translate(183.34,967.26) scale(1.0126,1)" font-size="23.82" font-style="italic" fill="#000">ns</text>
<polyline points="338.4,937 338.4,920.4 428,920.4 428,1106" fill="none" stroke="#737373" stroke-width="1.9"/>
<text transform="translate(370.93,917.25) scale(0.9729,1)" font-size="25.09" font-style="italic" fill="#000">ns</text>
<polyline points="537.2,1084 537.2,1018.1 626.2,1018.1 626.2,1043.3" fill="none" stroke="#737373" stroke-width="1.9"/>
<text transform="translate(569.64,1013.76) scale(0.9926,1)" font-size="24" font-style="italic" fill="#000">ns</text>
<line x1="151.5" y1="1148.6" x2="151.5" y2="1226" stroke="#000" stroke-width="2.7"/>
<line x1="137.5" y1="1148.6" x2="165.5" y2="1148.6" stroke="#000" stroke-width="2.9"/>
<rect x="137" y="1226" width="29" height="106" fill="#cbcbcb" stroke="#000" stroke-width="3"/>
<line x1="137" y1="1298.3" x2="166" y2="1298.3" stroke="#000" stroke-width="2.8"/>
<rect x="147.45" y="1251.65" width="8.1" height="8.1" fill="#fff" stroke="#000" stroke-width="2.9"/>
<line x1="240.5" y1="1130.6" x2="240.5" y2="1246.8" stroke="#000" stroke-width="2.7"/>
<line x1="226.5" y1="1130.6" x2="254.5" y2="1130.6" stroke="#000" stroke-width="2.9"/>
<rect x="226" y="1246.8" width="29" height="85.2" fill="#cc99ff" stroke="#000" stroke-width="3"/>
<line x1="226" y1="1275.7" x2="255" y2="1275.7" stroke="#000" stroke-width="2.8"/>
<rect x="236.55" y="1264.95" width="8.1" height="8.1" fill="#fff" stroke="#000" stroke-width="2.9"/>
<line x1="338.55" y1="951.3" x2="338.55" y2="1091" stroke="#000" stroke-width="2.7"/>
<line x1="324.55" y1="951.3" x2="352.55" y2="951.3" stroke="#000" stroke-width="2.9"/>
<line x1="338.55" y1="1292.7" x2="338.55" y2="1332.4" stroke="#000" stroke-width="2.7"/>
<line x1="324.55" y1="1332.4" x2="352.55" y2="1332.4" stroke="#000" stroke-width="2.9"/>
<rect x="324.05" y="1091" width="29" height="201.7" fill="#cbcbcb" stroke="#000" stroke-width="3"/>
<line x1="324.05" y1="1249.7" x2="353.05" y2="1249.7" stroke="#000" stroke-width="2.8"/>
<rect x="334.55" y="1203.15" width="8.1" height="8.1" fill="#fff" stroke="#000" stroke-width="2.9"/>
<line x1="427.65" y1="1118.2" x2="427.65" y2="1199.5" stroke="#000" stroke-width="2.7"/>
<line x1="413.65" y1="1118.2" x2="441.65" y2="1118.2" stroke="#000" stroke-width="2.9"/>
<line x1="427.65" y1="1326.1" x2="427.65" y2="1332.4" stroke="#000" stroke-width="2.7"/>
<line x1="413.65" y1="1332.4" x2="441.65" y2="1332.4" stroke="#000" stroke-width="2.9"/>
<rect x="413.15" y="1199.5" width="29" height="126.6" fill="#cc99ff" stroke="#000" stroke-width="3"/>
<line x1="413.15" y1="1286" x2="442.15" y2="1286" stroke="#000" stroke-width="2.8"/>
<rect x="423.95" y="1256.85" width="8.1" height="8.1" fill="#fff" stroke="#000" stroke-width="2.9"/>
<line x1="537.35" y1="1103" x2="537.35" y2="1206.9" stroke="#000" stroke-width="2.7"/>
<line x1="523.35" y1="1103" x2="551.35" y2="1103" stroke="#000" stroke-width="2.9"/>
<line x1="537.35" y1="1287.3" x2="537.35" y2="1332.4" stroke="#000" stroke-width="2.7"/>
<line x1="523.35" y1="1332.4" x2="551.35" y2="1332.4" stroke="#000" stroke-width="2.9"/>
<rect x="522.85" y="1206.9" width="29" height="80.4" fill="#cbcbcb" stroke="#000" stroke-width="3"/>
<line x1="522.85" y1="1247.2" x2="551.85" y2="1247.2" stroke="#000" stroke-width="2.8"/>
<rect x="533.45" y="1229.55" width="8.1" height="8.1" fill="#fff" stroke="#000" stroke-width="2.9"/>
<line x1="626.15" y1="1063.6" x2="626.15" y2="1205.6" stroke="#000" stroke-width="2.7"/>
<line x1="612.15" y1="1063.6" x2="640.15" y2="1063.6" stroke="#000" stroke-width="2.9"/>
<line x1="626.15" y1="1317.6" x2="626.15" y2="1332.4" stroke="#000" stroke-width="2.7"/>
<line x1="612.15" y1="1332.4" x2="640.15" y2="1332.4" stroke="#000" stroke-width="2.9"/>
<rect x="611.65" y="1205.6" width="29" height="112" fill="#cc99ff" stroke="#000" stroke-width="3"/>
<line x1="611.65" y1="1280.6" x2="640.65" y2="1280.6" stroke="#000" stroke-width="2.8"/>
<rect x="622.45" y="1245.65" width="8.1" height="8.1" fill="#fff" stroke="#000" stroke-width="2.9"/>
<circle cx="188" cy="1002.6" r="4.6" fill="#d9d9d9" stroke="#000" stroke-width="2.9"/>
<circle cx="187.5" cy="1148.6" r="4.6" fill="#d9d9d9" stroke="#000" stroke-width="2.9"/>
<circle cx="187.5" cy="1226.6" r="4.6" fill="#d9d9d9" stroke="#000" stroke-width="2.9"/>
<circle cx="183" cy="1268" r="4.6" fill="#d9d9d9" stroke="#000" stroke-width="2.9"/>
<circle cx="192.4" cy="1282" r="4.6" fill="#d9d9d9" stroke="#000" stroke-width="2.9"/>
<circle cx="182.3" cy="1313.9" r="4.6" fill="#d9d9d9" stroke="#000" stroke-width="2.9"/>
<circle cx="193" cy="1313.9" r="4.6" fill="#d9d9d9" stroke="#000" stroke-width="2.9"/>
<circle cx="176.5" cy="1332.4" r="4.6" fill="#d9d9d9" stroke="#000" stroke-width="2.9"/>
<circle cx="187.7" cy="1332.4" r="4.6" fill="#d9d9d9" stroke="#000" stroke-width="2.9"/>
<circle cx="199" cy="1332.4" r="4.6" fill="#d9d9d9" stroke="#000" stroke-width="2.9"/>
<circle cx="276.8" cy="1130.6" r="4.6" fill="#cc99ff" stroke="#000" stroke-width="2.9"/>
<circle cx="273.3" cy="1246.8" r="4.6" fill="#cc99ff" stroke="#000" stroke-width="2.9"/>
<circle cx="280.5" cy="1257.5" r="4.6" fill="#cc99ff" stroke="#000" stroke-width="2.9"/>
<circle cx="280.5" cy="1274.9" r="4.6" fill="#cc99ff" stroke="#000" stroke-width="2.9"/>
<circle cx="276.8" cy="1307.5" r="4.6" fill="#cc99ff" stroke="#000" stroke-width="2.9"/>
<circle cx="267.5" cy="1332.4" r="4.6" fill="#cc99ff" stroke="#000" stroke-width="2.9"/>
<circle cx="284.9" cy="1332.4" r="4.6" fill="#cc99ff" stroke="#000" stroke-width="2.9"/>
<circle cx="374" cy="951.3" r="4.6" fill="#d9d9d9" stroke="#000" stroke-width="2.9"/>
<circle cx="374" cy="1091" r="4.6" fill="#d9d9d9" stroke="#000" stroke-width="2.9"/>
<circle cx="369.5" cy="1241.2" r="4.6" fill="#d9d9d9" stroke="#000" stroke-width="2.9"/>
<circle cx="378.6" cy="1249.7" r="4.6" fill="#d9d9d9" stroke="#000" stroke-width="2.9"/>
<circle cx="367.4" cy="1290.3" r="4.6" fill="#d9d9d9" stroke="#000" stroke-width="2.9"/>
<circle cx="380.4" cy="1292" r="4.6" fill="#d9d9d9" stroke="#000" stroke-width="2.9"/>
<circle cx="374" cy="1332.4" r="4.6" fill="#d9d9d9" stroke="#000" stroke-width="2.9"/>
<circle cx="466" cy="1117.3" r="4.6" fill="#cc99ff" stroke="#000" stroke-width="2.9"/>
<circle cx="461.8" cy="1178" r="4.6" fill="#cc99ff" stroke="#000" stroke-width="2.9"/>
<circle cx="471.5" cy="1194.1" r="4.6" fill="#cc99ff" stroke="#000" stroke-width="2.9"/>
<circle cx="461.8" cy="1204.1" r="4.6" fill="#cc99ff" stroke="#000" stroke-width="2.9"/>
<circle cx="466" cy="1234.5" r="4.6" fill="#cc99ff" stroke="#000" stroke-width="2.9"/>
<circle cx="466" cy="1257" r="4.6" fill="#cc99ff" stroke="#000" stroke-width="2.9"/>
<circle cx="454.8" cy="1317.6" r="4.6" fill="#cc99ff" stroke="#000" stroke-width="2.9"/>
<circle cx="466" cy="1317.6" r="4.6" fill="#cc99ff" stroke="#000" stroke-width="2.9"/>
<circle cx="477.6" cy="1317.6" r="4.6" fill="#cc99ff" stroke="#000" stroke-width="2.9"/>
<circle cx="454.8" cy="1332.4" r="4.6" fill="#cc99ff" stroke="#000" stroke-width="2.9"/>
<circle cx="466" cy="1332.4" r="4.6" fill="#cc99ff" stroke="#000" stroke-width="2.9"/>
<circle cx="477.6" cy="1332.4" r="4.6" fill="#cc99ff" stroke="#000" stroke-width="2.9"/>
<circle cx="567" cy="1102.5" r="4.6" fill="#d9d9d9" stroke="#000" stroke-width="2.9"/>
<circle cx="577.6" cy="1107.6" r="4.6" fill="#d9d9d9" stroke="#000" stroke-width="2.9"/>
<circle cx="568.5" cy="1206.3" r="4.6" fill="#d9d9d9" stroke="#000" stroke-width="2.9"/>
<circle cx="576" cy="1222" r="4.6" fill="#d9d9d9" stroke="#000" stroke-width="2.9"/>
<circle cx="562.4" cy="1238.1" r="4.6" fill="#d9d9d9" stroke="#000" stroke-width="2.9"/>
<circle cx="581.5" cy="1255.4" r="4.6" fill="#d9d9d9" stroke="#000" stroke-width="2.9"/>
<circle cx="571.5" cy="1284.3" r="4.6" fill="#d9d9d9" stroke="#000" stroke-width="2.9"/>
<circle cx="583" cy="1286.7" r="4.6" fill="#d9d9d9" stroke="#000" stroke-width="2.9"/>
<circle cx="561.5" cy="1298.8" r="4.6" fill="#d9d9d9" stroke="#000" stroke-width="2.9"/>
<circle cx="572.1" cy="1332.4" r="4.6" fill="#d9d9d9" stroke="#000" stroke-width="2.9"/>
<circle cx="663.2" cy="1063.6" r="4.6" fill="#cc99ff" stroke="#000" stroke-width="2.9"/>
<circle cx="663.2" cy="1173.5" r="4.6" fill="#cc99ff" stroke="#000" stroke-width="2.9"/>
<circle cx="657.4" cy="1205.6" r="4.6" fill="#cc99ff" stroke="#000" stroke-width="2.9"/>
<circle cx="668" cy="1215.4" r="4.6" fill="#cc99ff" stroke="#000" stroke-width="2.9"/>
<circle cx="663.2" cy="1262.4" r="4.6" fill="#cc99ff" stroke="#000" stroke-width="2.9"/>
<circle cx="656.5" cy="1297.9" r="4.6" fill="#cc99ff" stroke="#000" stroke-width="2.9"/>
<circle cx="669.6" cy="1297.9" r="4.6" fill="#cc99ff" stroke="#000" stroke-width="2.9"/>
<circle cx="663.2" cy="1317.6" r="4.6" fill="#cc99ff" stroke="#000" stroke-width="2.9"/>
<circle cx="657.4" cy="1332.4" r="4.6" fill="#cc99ff" stroke="#000" stroke-width="2.9"/>
<circle cx="668.6" cy="1332.4" r="4.6" fill="#cc99ff" stroke="#000" stroke-width="2.9"/>
<line x1="137.5" y1="1346.5" x2="289.2" y2="1346.5" stroke="#000" stroke-width="2.7"/>
<line x1="213.2" y1="1346.5" x2="213.2" y2="1354.3" stroke="#000" stroke-width="2.8"/>
<text transform="translate(184.51,1379.3) scale(0.9807,1)" font-size="28.12" fill="#000">XYM</text>
<line x1="317.9" y1="1346.5" x2="488.8" y2="1346.5" stroke="#000" stroke-width="2.7"/>
<line x1="403.8" y1="1346.5" x2="403.8" y2="1354.3" stroke="#000" stroke-width="2.8"/>
<text transform="translate(377.23,1379.4) scale(0.9573,1)" font-size="28.12" fill="#000">XYF</text>
<line x1="523" y1="1346.5" x2="673.8" y2="1346.5" stroke="#000" stroke-width="2.7"/>
<line x1="598.2" y1="1346.5" x2="598.2" y2="1354.3" stroke="#000" stroke-width="2.8"/>
<text transform="translate(570.32,1379.5) scale(0.9521,1)" font-size="28.55" fill="#000">XXM</text>
<text transform="translate(4.93,1439.26) scale(1.1159,1)" font-size="23.94" font-weight="bold" fill="#000">C</text>
<text transform="translate(283.45,1441.32) scale(1.0292,1)" font-size="26.1" fill="#000">Marble burying task</text>
<rect x="118.5" y="1451" width="567.5" height="6.8" fill="#c8c8c8"/>
<rect x="358.75" y="1475.15" width="71.3" height="58.2" fill="#fff" stroke="#aaaaaa" stroke-width="2.5"/>
<rect x="365" y="1481.6" width="18.6" height="18" fill="#cbcbcb" stroke="#000" stroke-width="3.2"/>
<rect x="365" y="1509.9" width="18.6" height="18.3" fill="#cc99ff" stroke="#000" stroke-width="3.2"/>
<g transform="translate(392.48,1500.5) scale(1.0689,1)" fill="#000">
<text font-size="28.26">B </text>
<path d="M515 0V1237L197 1010V1180L530 1409H696V0Z" transform="translate(18.85,0) scale(0.01380,-0.01380)"/>
</g>
<text transform="translate(390.93,1529.51) scale(0.9545,1)" font-size="28.73" fill="#000">C6</text>
<line x1="118.7" y1="1461.15" x2="118.7" y2="1847.3" stroke="#000" stroke-width="2.8"/>
<line x1="101.3" y1="1846.1" x2="118.7" y2="1846.1" stroke="#000" stroke-width="2.5"/>
<text transform="translate(83.44,1853.05) scale(1.0300,1)" font-size="24.2" fill="#000">0</text>
<line x1="101.3" y1="1769.35" x2="118.7" y2="1769.35" stroke="#000" stroke-width="2.5"/>
<text transform="translate(83.56,1776.18) scale(1.0300,1)" font-size="24.2" fill="#000">5</text>
<line x1="101.3" y1="1692.6" x2="118.7" y2="1692.6" stroke="#000" stroke-width="2.5"/>
<g transform="translate(69.6,1699.55) scale(1.0300,1)" fill="#000">
<text font-size="24.2"> 0</text>
<path d="M515 0V1237L197 1010V1180L530 1409H696V0Z" transform="translate(0,0) scale(0.01182,-0.01182)"/>
</g>
<line x1="101.3" y1="1615.85" x2="118.7" y2="1615.85" stroke="#000" stroke-width="2.5"/>
<g transform="translate(69.73,1622.68) scale(1.0300,1)" fill="#000">
<text font-size="24.2"> 5</text>
<path d="M515 0V1237L197 1010V1180L530 1409H696V0Z" transform="translate(0,0) scale(0.01182,-0.01182)"/>
</g>
<line x1="101.3" y1="1539.1" x2="118.7" y2="1539.1" stroke="#000" stroke-width="2.5"/>
<text transform="translate(69.6,1546.05) scale(1.0300,1)" font-size="24.2" fill="#000">20</text>
<line x1="101.3" y1="1462.35" x2="118.7" y2="1462.35" stroke="#000" stroke-width="2.5"/>
<text transform="translate(69.73,1469.3) scale(1.0300,1)" font-size="24.2" fill="#000">25</text>
<line x1="109.8" y1="1807.72" x2="118.7" y2="1807.72" stroke="#000" stroke-width="2.5"/>
<line x1="109.8" y1="1730.97" x2="118.7" y2="1730.97" stroke="#000" stroke-width="2.5"/>
<line x1="109.8" y1="1654.22" x2="118.7" y2="1654.22" stroke="#000" stroke-width="2.5"/>
<line x1="109.8" y1="1577.47" x2="118.7" y2="1577.47" stroke="#000" stroke-width="2.5"/>
<line x1="109.8" y1="1500.72" x2="118.7" y2="1500.72" stroke="#000" stroke-width="2.5"/>
<text transform="translate(61.25,1766.17) rotate(-90) scale(1.0246,1)" font-size="26.42" fill="#000">Buried marbles (#)</text>
<polyline points="151.2,1584.9 151.2,1535.7 240.8,1535.7 240.8,1545.3" fill="none" stroke="#737373" stroke-width="1.9"/>
<text transform="translate(182.63,1531.07) scale(1.0699,1)" font-size="22.91" font-style="italic" fill="#000">ns</text>
<polyline points="339.6,1650.2 339.6,1624.7 429.2,1624.7 429.2,1634.9" fill="none" stroke="#737373" stroke-width="1.9"/>
<text transform="translate(371.94,1620.68) scale(1.1009,1)" font-size="21.82" font-style="italic" fill="#000">ns</text>
<polyline points="534.8,1529.4 534.8,1509.1 624,1509.1 624,1545.3" fill="none" stroke="#737373" stroke-width="1.9"/>
<text transform="translate(569.13,1505.07) scale(1.0742,1)" font-size="22.91" font-style="italic" fill="#000">ns</text>
<line x1="151.35" y1="1600.8" x2="151.35" y2="1654.2" stroke="#000" stroke-width="2.7"/>
<line x1="137.35" y1="1600.8" x2="165.35" y2="1600.8" stroke="#000" stroke-width="2.9"/>
<line x1="151.35" y1="1738.9" x2="151.35" y2="1784.6" stroke="#000" stroke-width="2.7"/>
<line x1="137.35" y1="1784.6" x2="165.35" y2="1784.6" stroke="#000" stroke-width="2.9"/>
<rect x="136.85" y="1654.2" width="29" height="84.7" fill="#cbcbcb" stroke="#000" stroke-width="3"/>
<line x1="136.85" y1="1738.9" x2="165.85" y2="1738.9" stroke="#000" stroke-width="2.8"/>
<rect x="147.15" y="1703.05" width="8.1" height="8.1" fill="#fff" stroke="#000" stroke-width="2.9"/>
<line x1="240.65" y1="1554.5" x2="240.65" y2="1585.1" stroke="#000" stroke-width="2.7"/>
<line x1="226.65" y1="1554.5" x2="254.65" y2="1554.5" stroke="#000" stroke-width="2.9"/>
<line x1="240.65" y1="1754.2" x2="240.65" y2="1769.2" stroke="#000" stroke-width="2.7"/>
<line x1="226.65" y1="1769.2" x2="254.65" y2="1769.2" stroke="#000" stroke-width="2.9"/>
<rect x="226.15" y="1585.1" width="29" height="169.1" fill="#cc99ff" stroke="#000" stroke-width="3"/>
<line x1="226.15" y1="1738.9" x2="255.15" y2="1738.9" stroke="#000" stroke-width="2.8"/>
<rect x="236.75" y="1695.25" width="8.1" height="8.1" fill="#fff" stroke="#000" stroke-width="2.9"/>
<line x1="340" y1="1662.3" x2="340" y2="1708" stroke="#000" stroke-width="2.7"/>
<line x1="326" y1="1662.3" x2="354" y2="1662.3" stroke="#000" stroke-width="2.9"/>
<rect x="325.5" y="1708" width="29" height="107.5" fill="#cbcbcb" stroke="#000" stroke-width="3"/>
<line x1="325.5" y1="1769.2" x2="354.5" y2="1769.2" stroke="#000" stroke-width="2.8"/>
<rect x="335.55" y="1754.55" width="8.1" height="8.1" fill="#fff" stroke="#000" stroke-width="2.9"/>
<line x1="429.05" y1="1647" x2="429.05" y2="1723.6" stroke="#000" stroke-width="2.7"/>
<line x1="415.05" y1="1647" x2="443.05" y2="1647" stroke="#000" stroke-width="2.9"/>
<line x1="429.05" y1="1815.5" x2="429.05" y2="1845.8" stroke="#000" stroke-width="2.7"/>
<line x1="415.05" y1="1845.8" x2="443.05" y2="1845.8" stroke="#000" stroke-width="2.9"/>
<rect x="414.55" y="1723.6" width="29" height="91.9" fill="#cc99ff" stroke="#000" stroke-width="3"/>
<line x1="414.55" y1="1769.2" x2="443.55" y2="1769.2" stroke="#000" stroke-width="2.8"/>
<rect x="425.15" y="1765.75" width="8.1" height="8.1" fill="#fff" stroke="#000" stroke-width="2.9"/>
<line x1="534.9" y1="1538.9" x2="534.9" y2="1569.8" stroke="#000" stroke-width="2.7"/>
<line x1="520.9" y1="1538.9" x2="548.9" y2="1538.9" stroke="#000" stroke-width="2.9"/>
<line x1="534.9" y1="1708" x2="534.9" y2="1754.2" stroke="#000" stroke-width="2.7"/>
<line x1="520.9" y1="1754.2" x2="548.9" y2="1754.2" stroke="#000" stroke-width="2.9"/>
<rect x="520.4" y="1569.8" width="29" height="138.2" fill="#cbcbcb" stroke="#000" stroke-width="3"/>
<line x1="520.4" y1="1646.4" x2="549.4" y2="1646.4" stroke="#000" stroke-width="2.8"/>
<rect x="530.75" y="1641.45" width="8.1" height="8.1" fill="#fff" stroke="#000" stroke-width="2.9"/>
<line x1="623.9" y1="1554.5" x2="623.9" y2="1616" stroke="#000" stroke-width="2.7"/>
<line x1="609.9" y1="1554.5" x2="637.9" y2="1554.5" stroke="#000" stroke-width="2.9"/>
<line x1="623.9" y1="1692.7" x2="623.9" y2="1723.6" stroke="#000" stroke-width="2.7"/>
<line x1="609.9" y1="1723.6" x2="637.9" y2="1723.6" stroke="#000" stroke-width="2.9"/>
<rect x="609.4" y="1616" width="29" height="76.7" fill="#cc99ff" stroke="#000" stroke-width="3"/>
<line x1="609.4" y1="1654.2" x2="638.4" y2="1654.2" stroke="#000" stroke-width="2.8"/>
<rect x="619.95" y="1655.35" width="8.1" height="8.1" fill="#fff" stroke="#000" stroke-width="2.9"/>
<circle cx="190.2" cy="1600.8" r="4.6" fill="#d9d9d9" stroke="#000" stroke-width="2.9"/>
<circle cx="190.2" cy="1631.1" r="4.6" fill="#d9d9d9" stroke="#000" stroke-width="2.9"/>
<circle cx="187" cy="1646.4" r="4.6" fill="#d9d9d9" stroke="#000" stroke-width="2.9"/>
<circle cx="193.7" cy="1662.3" r="4.6" fill="#d9d9d9" stroke="#000" stroke-width="2.9"/>
<circle cx="190.2" cy="1692" r="4.6" fill="#d9d9d9" stroke="#000" stroke-width="2.9"/>
<circle cx="174.9" cy="1738.9" r="4.6" fill="#d9d9d9" stroke="#000" stroke-width="2.9"/>
<circle cx="182.1" cy="1738.9" r="4.6" fill="#d9d9d9" stroke="#000" stroke-width="2.9"/>
<circle cx="190" cy="1738.9" r="4.6" fill="#d9d9d9" stroke="#000" stroke-width="2.9"/>
<circle cx="196.6" cy="1738.9" r="4.6" fill="#d9d9d9" stroke="#000" stroke-width="2.9"/>
<circle cx="205.8" cy="1738.9" r="4.6" fill="#d9d9d9" stroke="#000" stroke-width="2.9"/>
<circle cx="193.7" cy="1769.2" r="4.6" fill="#d9d9d9" stroke="#000" stroke-width="2.9"/>
<circle cx="187" cy="1784.6" r="4.6" fill="#d9d9d9" stroke="#000" stroke-width="2.9"/>
<circle cx="279" cy="1554.5" r="4.6" fill="#cc99ff" stroke="#000" stroke-width="2.9"/>
<circle cx="279" cy="1585.1" r="4.6" fill="#cc99ff" stroke="#000" stroke-width="2.9"/>
<circle cx="276" cy="1738.9" r="4.6" fill="#cc99ff" stroke="#000" stroke-width="2.9"/>
<circle cx="290" cy="1738.9" r="4.6" fill="#cc99ff" stroke="#000" stroke-width="2.9"/>
<circle cx="268" cy="1754.2" r="4.6" fill="#cc99ff" stroke="#000" stroke-width="2.9"/>
<circle cx="282.7" cy="1754.2" r="4.6" fill="#cc99ff" stroke="#000" stroke-width="2.9"/>
<circle cx="279" cy="1769.2" r="4.6" fill="#cc99ff" stroke="#000" stroke-width="2.9"/>
<circle cx="378" cy="1662.3" r="4.6" fill="#d9d9d9" stroke="#000" stroke-width="2.9"/>
<circle cx="378" cy="1708" r="4.6" fill="#d9d9d9" stroke="#000" stroke-width="2.9"/>
<circle cx="378" cy="1753.9" r="4.6" fill="#d9d9d9" stroke="#000" stroke-width="2.9"/>
<circle cx="385.8" cy="1769.2" r="4.6" fill="#d9d9d9" stroke="#000" stroke-width="2.9"/>
<circle cx="370.2" cy="1785.1" r="4.6" fill="#d9d9d9" stroke="#000" stroke-width="2.9"/>
<circle cx="370.2" cy="1815.5" r="4.6" fill="#d9d9d9" stroke="#000" stroke-width="2.9"/>
<circle cx="385.8" cy="1815.5" r="4.6" fill="#d9d9d9" stroke="#000" stroke-width="2.9"/>
<circle cx="467.6" cy="1646.4" r="4.6" fill="#cc99ff" stroke="#000" stroke-width="2.9"/>
<circle cx="467.6" cy="1692.1" r="4.6" fill="#cc99ff" stroke="#000" stroke-width="2.9"/>
<circle cx="472.5" cy="1707.7" r="4.6" fill="#cc99ff" stroke="#000" stroke-width="2.9"/>
<circle cx="462.7" cy="1723" r="4.6" fill="#cc99ff" stroke="#000" stroke-width="2.9"/>
<circle cx="467.6" cy="1753.9" r="4.6" fill="#cc99ff" stroke="#000" stroke-width="2.9"/>
<circle cx="462.7" cy="1769.2" r="4.6" fill="#cc99ff" stroke="#000" stroke-width="2.9"/>
<circle cx="472.5" cy="1769.2" r="4.6" fill="#cc99ff" stroke="#000" stroke-width="2.9"/>
<circle cx="467.6" cy="1800.2" r="4.6" fill="#cc99ff" stroke="#000" stroke-width="2.9"/>
<circle cx="457.5" cy="1815.5" r="4.6" fill="#cc99ff" stroke="#000" stroke-width="2.9"/>
<circle cx="477.2" cy="1815.5" r="4.6" fill="#cc99ff" stroke="#000" stroke-width="2.9"/>
<circle cx="467" cy="1830.5" r="4.6" fill="#cc99ff" stroke="#000" stroke-width="2.9"/>
<circle cx="476.3" cy="1830.5" r="4.6" fill="#cc99ff" stroke="#000" stroke-width="2.9"/>
<circle cx="457.5" cy="1845.8" r="4.6" fill="#cc99ff" stroke="#000" stroke-width="2.9"/>
<circle cx="567.7" cy="1538.9" r="4.6" fill="#d9d9d9" stroke="#000" stroke-width="2.9"/>
<circle cx="577.8" cy="1538.9" r="4.6" fill="#d9d9d9" stroke="#000" stroke-width="2.9"/>
<circle cx="567.7" cy="1569.8" r="4.6" fill="#d9d9d9" stroke="#000" stroke-width="2.9"/>
<circle cx="577.8" cy="1569.8" r="4.6" fill="#d9d9d9" stroke="#000" stroke-width="2.9"/>
<circle cx="567.7" cy="1600.8" r="4.6" fill="#d9d9d9" stroke="#000" stroke-width="2.9"/>
<circle cx="577.8" cy="1600.8" r="4.6" fill="#d9d9d9" stroke="#000" stroke-width="2.9"/>
<circle cx="567.7" cy="1646.4" r="4.6" fill="#d9d9d9" stroke="#000" stroke-width="2.9"/>
<circle cx="577.8" cy="1646.4" r="4.6" fill="#d9d9d9" stroke="#000" stroke-width="2.9"/>
<circle cx="567.7" cy="1677.3" r="4.6" fill="#d9d9d9" stroke="#000" stroke-width="2.9"/>
<circle cx="577.8" cy="1692.7" r="4.6" fill="#d9d9d9" stroke="#000" stroke-width="2.9"/>
<circle cx="573" cy="1708" r="4.6" fill="#d9d9d9" stroke="#000" stroke-width="2.9"/>
<circle cx="573" cy="1738.9" r="4.6" fill="#d9d9d9" stroke="#000" stroke-width="2.9"/>
<circle cx="562.8" cy="1754.2" r="4.6" fill="#d9d9d9" stroke="#000" stroke-width="2.9"/>
<circle cx="582.5" cy="1754.2" r="4.6" fill="#d9d9d9" stroke="#000" stroke-width="2.9"/>
<circle cx="656.7" cy="1554.5" r="4.6" fill="#cc99ff" stroke="#000" stroke-width="2.9"/>
<circle cx="666.9" cy="1569.8" r="4.6" fill="#cc99ff" stroke="#000" stroke-width="2.9"/>
<circle cx="662" cy="1600.8" r="4.6" fill="#cc99ff" stroke="#000" stroke-width="2.9"/>
<circle cx="656.7" cy="1631.1" r="4.6" fill="#cc99ff" stroke="#000" stroke-width="2.9"/>
<circle cx="666.9" cy="1631.1" r="4.6" fill="#cc99ff" stroke="#000" stroke-width="2.9"/>
<circle cx="656.7" cy="1646.4" r="4.6" fill="#cc99ff" stroke="#000" stroke-width="2.9"/>
<circle cx="666.9" cy="1661.7" r="4.6" fill="#cc99ff" stroke="#000" stroke-width="2.9"/>
<circle cx="652.4" cy="1692.7" r="4.6" fill="#cc99ff" stroke="#000" stroke-width="2.9"/>
<circle cx="662" cy="1692.7" r="4.6" fill="#cc99ff" stroke="#000" stroke-width="2.9"/>
<circle cx="671.8" cy="1692.7" r="4.6" fill="#cc99ff" stroke="#000" stroke-width="2.9"/>
<circle cx="662" cy="1723.6" r="4.6" fill="#cc99ff" stroke="#000" stroke-width="2.9"/>
<circle cx="662" cy="1815.5" r="4.6" fill="#cc99ff" stroke="#000" stroke-width="2.9"/>
<line x1="137.3" y1="1856.6" x2="294" y2="1856.6" stroke="#000" stroke-width="2.7"/>
<line x1="215.4" y1="1856.6" x2="215.4" y2="1864.4" stroke="#000" stroke-width="2.8"/>
<text transform="translate(187.42,1892.2) scale(0.9395,1)" font-size="28.99" fill="#000">XYM</text>
<line x1="326" y1="1856.6" x2="481.5" y2="1856.6" stroke="#000" stroke-width="2.7"/>
<line x1="403.2" y1="1856.6" x2="403.2" y2="1864.4" stroke="#000" stroke-width="2.8"/>
<text transform="translate(377.23,1892.2) scale(0.9332,1)" font-size="28.84" fill="#000">XYF</text>
<line x1="520.9" y1="1856.6" x2="676.1" y2="1856.6" stroke="#000" stroke-width="2.7"/>
<line x1="598.4" y1="1856.6" x2="598.4" y2="1864.4" stroke="#000" stroke-width="2.8"/>
<text transform="translate(569.92,1891.8) scale(0.9589,1)" font-size="28.55" fill="#000">XXM</text>
</svg>
</body></html>
